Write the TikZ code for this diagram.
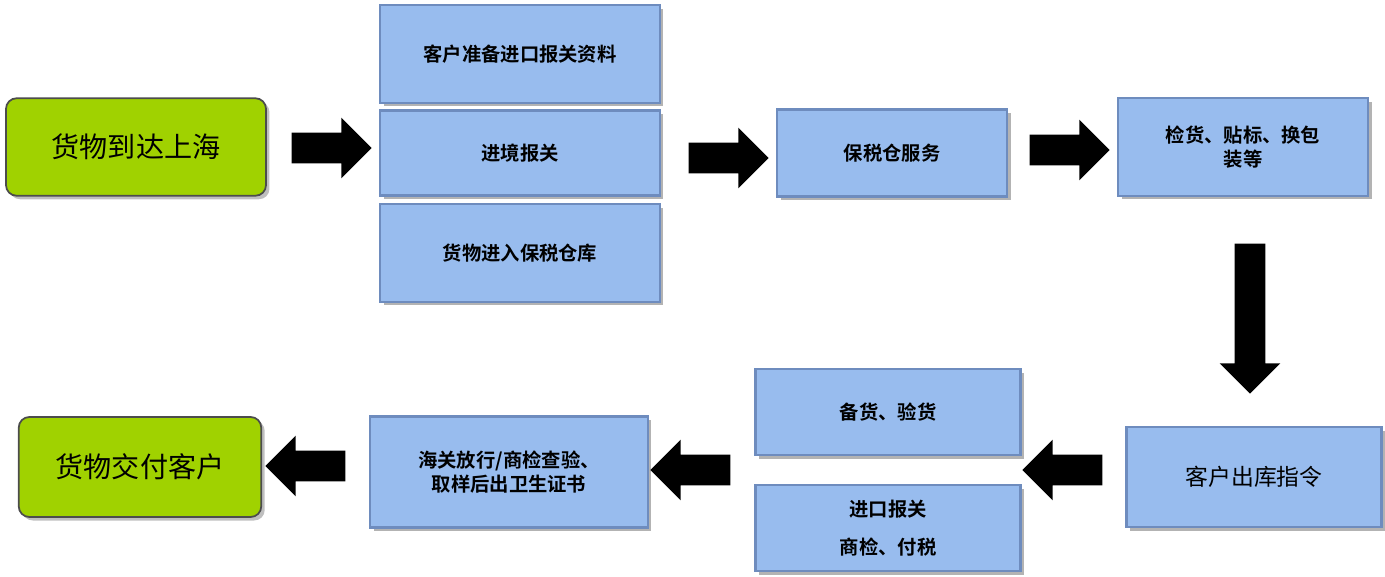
\documentclass[tikz,border=0pt]{standalone}
\usepackage{fontspec}
\newfontfamily\cjk{Noto Sans CJK SC}
\newfontfamily\cjkb{Noto Sans CJK SC Bold}
\usetikzlibrary{shapes.arrows,shadows,positioning}
\definecolor{boxblue}{RGB}{152,188,238}
\definecolor{boxedge}{RGB}{110,140,190}
\definecolor{lime}{RGB}{160,210,0}
\begin{document}
\begin{tikzpicture}[x=0.02cm,y=-0.02cm]
\tikzstyle{step box} = [
	draw=boxedge, %border of the box
	fill=boxblue,
	line width=1.2pt,
	drop shadow={shadow xshift=2pt,shadow yshift=-2pt,opacity=0.6},
	inner sep=0pt,
	align=center,
	font=\cjkb\fontsize{11}{14}\selectfont
];
\tikzstyle{end box} = [
	draw=black!70,
	fill=lime,
	rounded corners=6pt,
	line width=1pt,
	drop shadow={shadow xshift=2pt,shadow yshift=-2pt,opacity=0.5},
	font=\cjk\fontsize{16}{18}\selectfont
];
\tikzstyle{block arrow} = [
	single arrow,
	fill=black,
	single arrow head extend=0.3cm,
	minimum height=1.6cm,
	inner sep=0.3cm
];
\useasboundingbox (0,0) rectangle (1385,577);

% upper row
\node[end box, minimum width=5.2cm, minimum height=1.95cm](arrive) at (136,147) {货物到达上海};
\node[step box, minimum width=5.6cm, minimum height=1.95cm](prepare) at (520,54) {客户准备进口报关资料};
\node[step box, minimum width=5.6cm, minimum height=1.7cm](entry) at (520,153) {进境报关};
\node[step box, minimum width=5.6cm, minimum height=1.95cm](store) at (520,253) {货物进入保税仓库};
\node[step box, minimum width=4.6cm, minimum height=1.74cm](service) at (892,153) {保税仓服务};
\node[step box, minimum width=5.0cm, minimum height=1.95cm](check) at (1243,147) {检货、贴标、换包\\装等};

% lower row
\node[step box, minimum width=5.1cm, minimum height=2.0cm,
	font=\cjk\fontsize{13}{15}\selectfont](order) at (1254,477) {客户出库指令};
\node[step box, minimum width=5.3cm, minimum height=1.72cm](ready) at (888,412) {备货、验货};
\node[step box, minimum width=5.3cm, minimum height=1.72cm,
	font=\cjkb\fontsize{11}{22}\selectfont](declare) at (888,528) {进口报关\\商检、付税};
\node[step box, minimum width=5.55cm, minimum height=2.22cm](release) at (509,472) {海关放行/商检查验、\\取样后出卫生证书};
\node[end box, minimum width=4.85cm, minimum height=2.0cm](deliver) at (140,467) {货物交付客户};

% connectors
\node[block arrow](a1) at (324,148) {};
\node[block arrow](a2) at (721,158) {};
\node[block arrow](a3) at (1062,150) {};
\node[block arrow, shape border rotate=270, minimum height=3.0cm](a4) at (1250,311) {};
\node[block arrow, shape border rotate=180](a5) at (1070,470) {};
\node[block arrow, shape border rotate=180](a6) at (698,470) {};
\node[block arrow, shape border rotate=180](a7) at (313,466) {};
\end{tikzpicture}
\end{document}
